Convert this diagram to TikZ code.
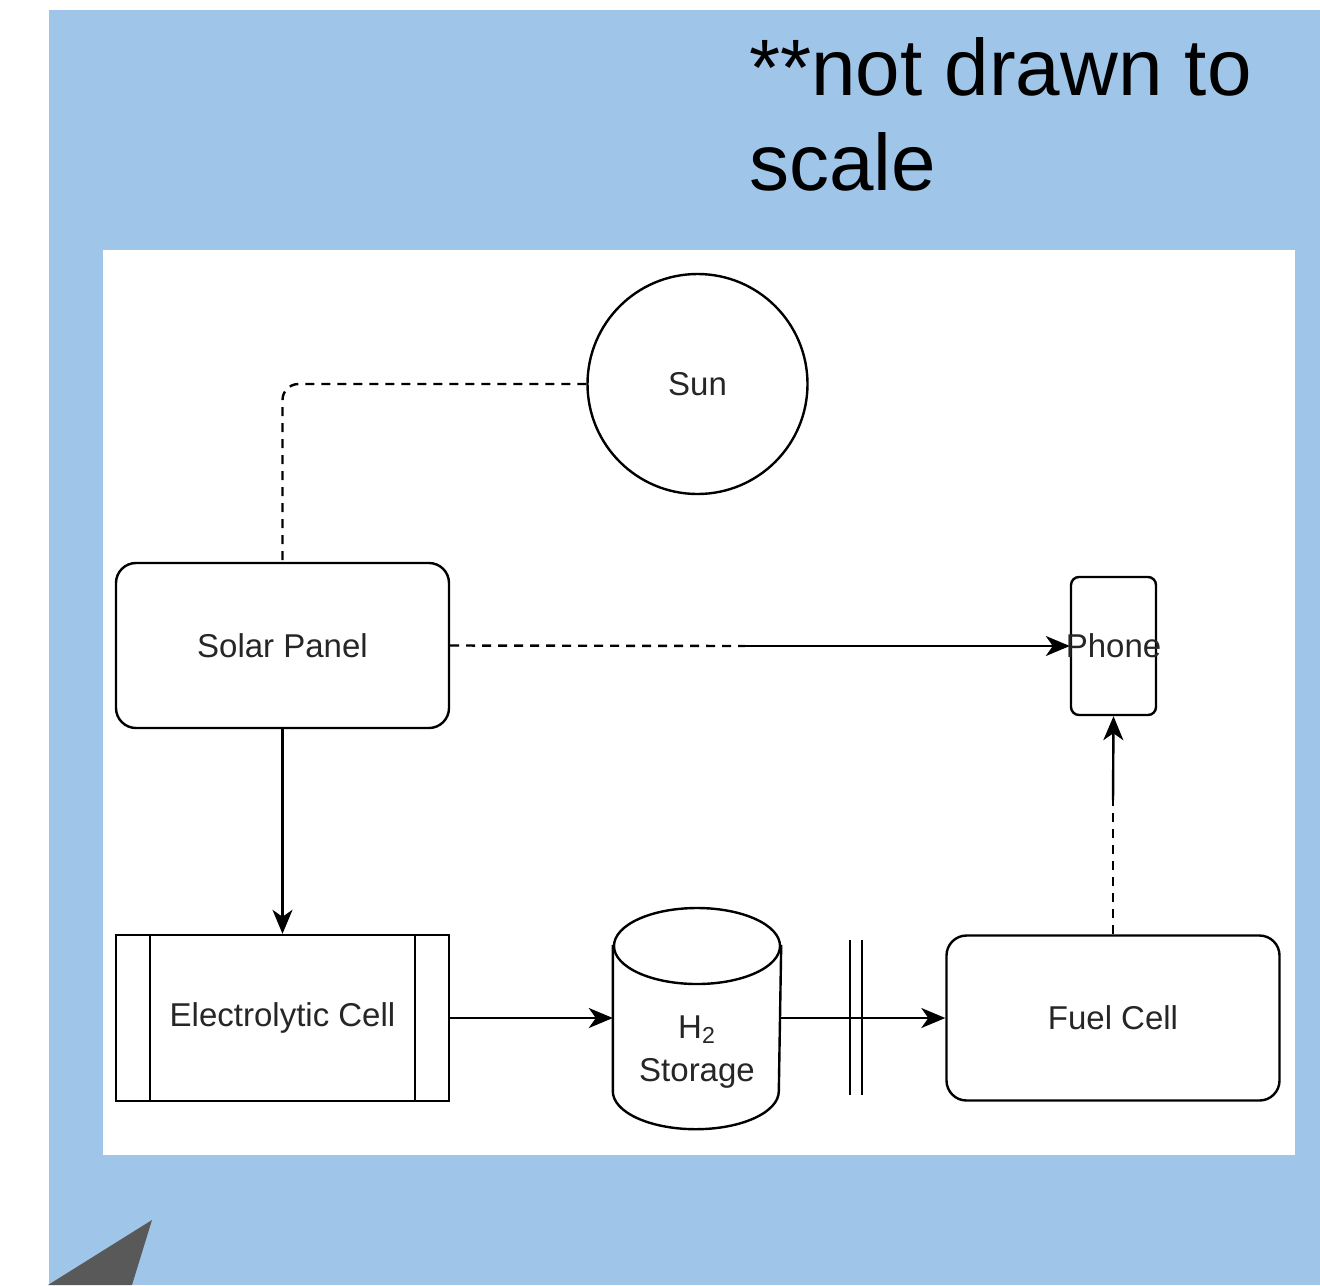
\documentclass[tikz,border=0pt]{standalone}
\usepackage{fontspec}
\setmainfont{Liberation Sans}
\usepackage{xcolor}
\usetikzlibrary{arrows.meta, positioning, shapes}
\definecolor{slideblue}{HTML}{9FC5E8}
\definecolor{slidegrey}{HTML}{595959}

\begin{document}
\begin{tikzpicture}[x=0.5pt, y=-0.5pt, line width=1.2pt,
  every node/.style={font=\fontsize{16.5}{21.5}\selectfont, text=black!85},
  box/.style={draw, rounded corners=10pt, minimum width=166.5pt, minimum height=82.5pt},
  cell/.style={draw, minimum width=166.5pt, minimum height=83pt,
    path picture={
      \draw ([xshift=17pt]path picture bounding box.north west) -- ([xshift=17pt]path picture bounding box.south west);
      \draw ([xshift=-17pt]path picture bounding box.north east) -- ([xshift=-17pt]path picture bounding box.south east);}},
  link/.style={-{Stealth[length=12pt, width=10pt, inset=3.5pt]}},
  dots/.style={dash pattern=on 4.5pt off 3.5pt}]

% Slide background
\useasboundingbox (0,0) rectangle (1320,1285);
\fill[white] (0,0) rectangle (1320,1285);
\fill[slideblue] (49,10) rectangle (1320,1285);
\fill[white] (103,250) rectangle (1295,1155);
\fill[slidegrey] (48,1285) -- (152,1220) -- (132,1285) -- cycle;

\node[font=\fontsize{40}{47.5}\selectfont, text=black, align=left, anchor=base west, inner sep=0pt] (note) at (748,190) {**not drawn to\\scale};

% Nodes
\node[draw, circle, minimum size=110pt] (sun) at (697.5,384) {Sun};
\node[box] (solar) at (282.5,645.5) {Solar Panel};
\node[draw, rounded corners=4pt, minimum width=42.5pt, minimum height=69pt, label={center:Phone}] (phone) at (1113.5,646) {};
\node[cell] (cell) at (282.5,1018) {Electrolytic Cell};
\node[minimum width=83pt, minimum height=110pt, label={[yshift=-17pt, align=center]center:H\textsubscript{2}\\Storage}] (h2) at (697,1018) {};
\node[box] (fuel) at (1113,1018) {Fuel Cell};

% H2 tank outline
\draw ([yshift=-19pt]h2.north west) -- ([yshift=19pt]h2.south west) arc[start angle=180, end angle=0, x radius=83, y radius=38] -- ([yshift=-19pt]h2.north east);
\draw (697,946) ellipse[x radius=83, y radius=38];

% Arrows
\coordinate (gridmid) at (745,646);
\coordinate (fuelmid) at (1113,800);
\draw[dots, rounded corners=8pt] (sun.west) -| (solar.north);
\draw[dots] (solar.east) -- (gridmid);
\draw[link] (gridmid) -- (phone.west);
\draw[link] (solar.south) -- (cell.north);
\draw[link] (cell.east) -- (h2.west);
\draw[link] (h2.east) -- (fuel.west);
\draw[dots] (fuel.north) -- (fuelmid);
\draw[link] (fuelmid) -- (phone.south);

% break marks
\draw (850,940) -- (850,1095);
\draw (862,940) -- (862,1095);

\end{tikzpicture}
\end{document}
